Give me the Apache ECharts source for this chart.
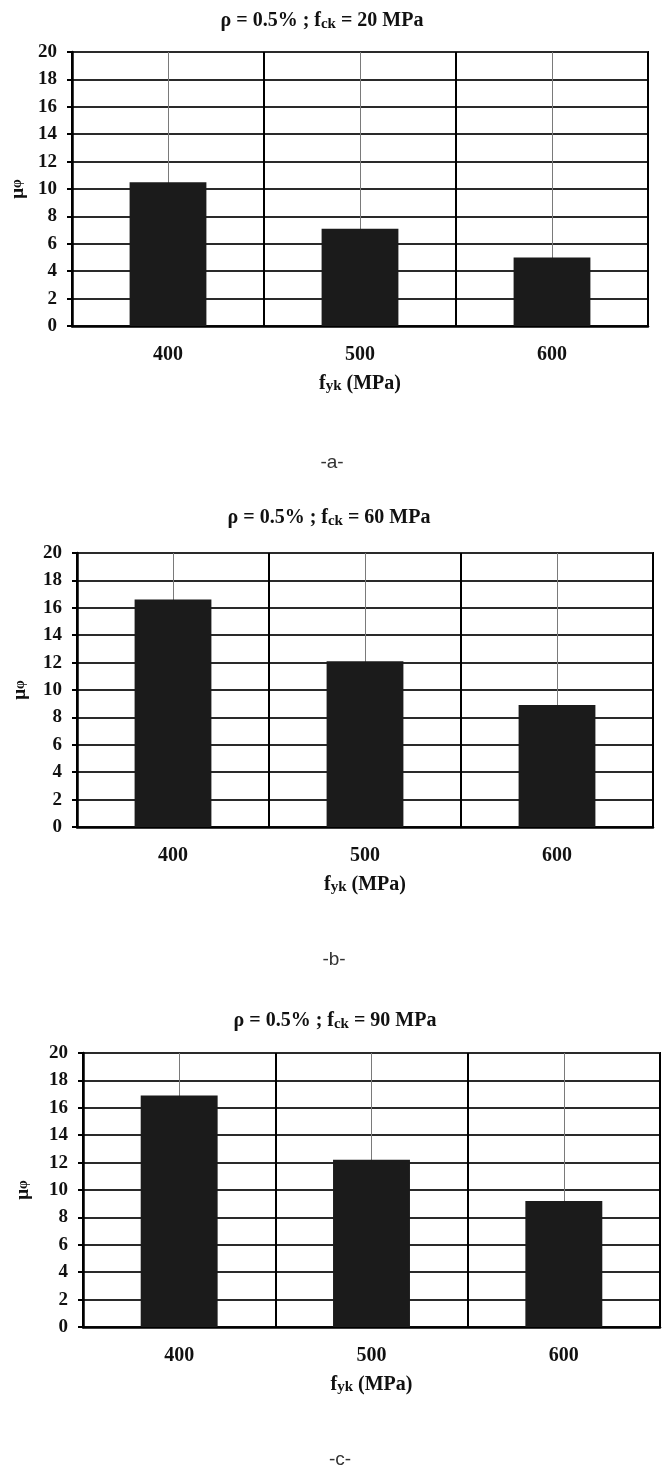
<!DOCTYPE html>
<html>
<head>
<meta charset="utf-8">
<script src="https://cdn.jsdelivr.net/npm/echarts@6/dist/echarts.min.js"></script>
<style>
  html, body { margin: 0; padding: 0; background: #fff; }
  #chart { width: 665px; height: 1472px; }
</style>
</head>
<body>
<div id="chart"></div>
<script>
// Ductility factor μφ versus steel yield strength, three concrete grades
const categories = ['400', '500', '600'];
const valuesA = [10.5, 7.1, 5.0];   // fck = 20 MPa
const valuesB = [16.6, 12.1, 8.9];  // fck = 60 MPa
const valuesC = [16.9, 12.2, 9.2];  // fck = 90 MPa
const fckLabels = ['20', '60', '90'];
const panelLabels = ['-a-', '-b-', '-c-'];
const yMin = 0, yMax = 20, yStep = 2;

const panelData = [valuesA, valuesB, valuesC];

// panel geometry (pixels)
const panels = [
  { left: 72, right: 17, top: 52,   height: 274, titleX: 322, titleY: 21,   tagX: 332, tagY: 463 },
  { left: 77, right: 12, top: 553,  height: 274, titleX: 329, titleY: 518,  tagX: 334, tagY: 960 },
  { left: 83, right: 5,  top: 1053, height: 274, titleX: 335, titleY: 1021, tagX: 340, tagY: 1460 }
];

const serif = '"Liberation Serif", "Times New Roman", serif';
const ink = '#111';

const grids = [], xAxes = [], yAxes = [], series = [], graphics = [];

panels.forEach((p, i) => {
  grids.push({
    left: p.left, right: p.right, top: p.top, height: p.height,
    show: true, borderColor: '#000', borderWidth: 2, backgroundColor: 'transparent'
  });

  xAxes.push({
    type: 'category', gridIndex: i, data: categories,
    boundaryGap: true,
    axisLine: { show: true, lineStyle: { color: '#000', width: 2.5 } },
    axisTick: { show: false },
    axisLabel: { color: ink, fontFamily: serif, fontWeight: 'bold', fontSize: 20, margin: 19 },
    splitLine: { show: true, interval: 0, lineStyle: { color: '#000', width: 2 } },
    name: '{f|f}{s|yk}{f| (MPa)}',
    nameLocation: 'middle', nameGap: 47,
    nameTextStyle: {
      rich: {
        f: { fontFamily: serif, fontWeight: 'bold', fontSize: 20, color: ink },
        s: { fontFamily: serif, fontWeight: 'bold', fontSize: 15, color: ink, padding: [6, 0, 0, 0] }
      }
    }
  });

  yAxes.push({
    type: 'value', gridIndex: i, min: yMin, max: yMax, interval: yStep,
    axisLine: { show: true, lineStyle: { color: '#000', width: 2.5 } },
    axisTick: { show: true, inside: false, length: 5, lineStyle: { color: '#000', width: 2 } },
    axisLabel: { color: ink, fontFamily: serif, fontWeight: 'bold', fontSize: 19, margin: 15 },
    splitLine: { show: true, lineStyle: { color: '#2a2a2a', width: 2 } },
    name: '{m|μ}{s|φ}',
    nameLocation: 'middle', nameGap: 44 + i * 3,
    nameTextStyle: {
      rich: {
        m: { fontFamily: serif, fontWeight: 'bold', fontSize: 19, color: ink },
        s: { fontFamily: serif, fontWeight: 'bold', fontSize: 14, color: ink }
      }
    }
  });

  // thin centre lines through each category, kept behind the bars
  series.push({
    type: 'scatter', xAxisIndex: i, yAxisIndex: i, data: [], z: 1, silent: true,
    markLine: {
      z: 1, silent: true, animation: false,
      symbol: ['none', 'none'],
      label: { show: false },
      lineStyle: { color: '#7a7a7a', width: 1, type: 'solid' },
      data: categories.map(c => ({ xAxis: c }))
    }
  });

  series.push({
    type: 'bar', xAxisIndex: i, yAxisIndex: i, z: 3,
    data: panelData[i],
    barWidth: '40%',
    itemStyle: { color: '#1b1b1b' },
    animation: false
  });

  graphics.push({
    type: 'text', x: p.titleX, y: p.titleY,
    style: {
      text: '{b|ρ = 0.5% ; f}{s|ck}{b| = ' + fckLabels[i] + ' MPa}',
      align: 'center', verticalAlign: 'middle',
      rich: {
        b: { fontFamily: serif, fontWeight: 'bold', fontSize: 20, fill: ink },
        s: { fontFamily: serif, fontWeight: 'bold', fontSize: 15, fill: ink, padding: [6, 0, 0, 0] }
      }
    }
  });

  graphics.push({
    type: 'text', x: p.tagX, y: p.tagY,
    style: {
      text: panelLabels[i], align: 'center', verticalAlign: 'middle',
      font: '19px "Liberation Sans", Arial, sans-serif', fill: '#333'
    }
  });
});

const chart = echarts.init(document.getElementById('chart'), null, { renderer: 'canvas' });
chart.setOption({
  animation: false,
  backgroundColor: '#fff',
  grid: grids,
  xAxis: xAxes,
  yAxis: yAxes,
  series: series,
  graphic: graphics
});
</script>
</body>
</html>
